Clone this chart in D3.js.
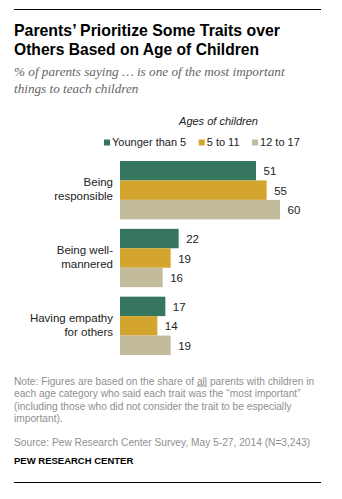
<!DOCTYPE html>
<html>
<head>
<meta charset="utf-8">
<script src="https://cdn.jsdelivr.net/npm/d3@7"></script>
<style>
  html, body { margin: 0; padding: 0; background: #fff; }
  svg { display: block; }
</style>
</head>
<body>
<script>
// Traits parents say are most important to teach, by age of their children
const traits = ["Being responsible", "Being well-mannered", "Having empathy for others"];
const traitLines = [["Being", "responsible"], ["Being well-", "mannered"], ["Having empathy", "for others"]];
const ageGroups = ["Younger than 5", "5 to 11", "12 to 17"];
const youngerThan5 = [51, 22, 17];
const age5to11 = [55, 19, 14];
const age12to17 = [60, 16, 19];
const groupColors = ["#36765f", "#d3a52f", "#c2bb9c"];

const titleLines = ["Parents\u2019 Prioritize Some Traits over", "Others Based on Age of Children"];
const subtitleLines = ["% of parents saying \u2026 is one of the most important", "things to teach children"];
const noteLines = [
  ["Note: Figures are based on the share of ", "all", " parents with children in"],
  ["each age category who said each trait was the \u201cmost important\u201d"],
  ["(including those who did not consider the trait to be especially"],
  ["important)."]
];
const sourceText = "Source: Pew Research Center Survey, May 5-27, 2014 (N=3,243)";
const brandText = "PEW RESEARCH CENTER";

const W = 342, H = 499;
const sans = "'Liberation Sans', Arial, sans-serif";

const svg = d3.select("body").append("svg").attr("width", W).attr("height", H);

// Rules top and bottom
svg.append("line").attr("x1", 14).attr("x2", 321).attr("y1", 9.5).attr("y2", 9.5)
  .attr("stroke", "#000").attr("stroke-width", 1);
svg.append("line").attr("x1", 14).attr("x2", 321).attr("y1", 482.5).attr("y2", 482.5)
  .attr("stroke", "#000").attr("stroke-width", 1);

// Title
const titleWidths = [266, 245];
titleLines.forEach((t, i) => {
  svg.append("text").attr("x", 14).attr("y", 36 + i * 19.3)
    .attr("font-family", sans).attr("font-weight", "bold").attr("font-size", 16.5)
    .attr("fill", "#000").attr("textLength", titleWidths[i]).attr("lengthAdjust", "spacingAndGlyphs")
    .text(t);
});

// Subtitle
subtitleLines.forEach((t, i) => {
  svg.append("text").attr("x", 14).attr("y", 76 + i * 17)
    .attr("font-family", "'Liberation Serif', 'Times New Roman', serif").attr("font-style", "italic")
    .attr("font-size", 13.2).attr("fill", "#666")
    .text(t);
});

// Scales
const x = d3.scaleLinear().domain([0, 60]).range([120, 280]);
const y = d3.scaleBand().domain(traits).range([161, 355]).paddingInner(0.14).paddingOuter(0);
const yInner = d3.scaleBand().domain(ageGroups).range([0, y.bandwidth()]).padding(0);
const color = d3.scaleOrdinal().domain(ageGroups).range(groupColors);

const seriesValues = [youngerThan5, age5to11, age12to17];
const rows = [];
traits.forEach((t, ti) => {
  ageGroups.forEach((g, gi) => rows.push({ trait: t, group: g, value: seriesValues[gi][ti] }));
});

// Legend
svg.append("text").attr("x", 218.5).attr("y", 125).attr("text-anchor", "middle")
  .attr("font-family", sans).attr("font-style", "italic").attr("font-size", 11).attr("fill", "#222")
  .text("Ages of children");

let lx = 104;
ageGroups.forEach((g) => {
  svg.append("rect").attr("x", lx).attr("y", 139.5).attr("width", 6).attr("height", 6).attr("fill", color(g));
  const t = svg.append("text").attr("x", lx + 8).attr("y", 145.7)
    .attr("font-family", sans).attr("font-size", 11).attr("fill", "#222").text(g);
  lx += 8 + t.node().getComputedTextLength() + 12.5;
});

// Bars
const g = svg.append("g");
g.selectAll("rect.bar").data(rows).join("rect").attr("class", "bar")
  .attr("x", x(0))
  .attr("y", d => y(d.trait) + yInner(d.group))
  .attr("width", d => x(d.value) - x(0))
  .attr("height", yInner.bandwidth())
  .attr("fill", d => color(d.group));

// Value labels
g.selectAll("text.val").data(rows).join("text").attr("class", "val")
  .attr("x", d => x(d.value) + 7.5)
  .attr("y", d => y(d.trait) + yInner(d.group) + yInner.bandwidth() / 2 + 4.5)
  .attr("font-family", sans).attr("font-size", 11.5).attr("fill", "#222")
  .text(d => d.value);

// Category labels
traits.forEach((t, ti) => {
  const lines = traitLines[ti];
  const mid = y(t) + y.bandwidth() / 2;
  const lh = 13.8;
  const first = mid + 3 - (lines.length - 1) * lh / 2;
  const txt = svg.append("text").attr("text-anchor", "end")
    .attr("font-family", sans).attr("font-size", 11.5).attr("fill", "#222");
  lines.forEach((ln, li) => {
    txt.append("tspan").attr("x", 113).attr("y", first + li * lh).text(ln);
  });
});

// Note
const noteColor = "#8f8f8f";
noteLines.forEach((parts, i) => {
  const t = svg.append("text").attr("x", 14).attr("y", 384.5 + i * 12.5)
    .attr("font-family", sans).attr("font-size", 10.2).attr("fill", noteColor);
  parts.forEach((p, pi) => {
    const s = t.append("tspan").text(p);
    if (parts.length === 3 && pi === 1) s.attr("text-decoration", "underline");
  });
});

svg.append("text").attr("x", 14).attr("y", 446)
  .attr("font-family", sans).attr("font-size", 10.2).attr("fill", noteColor)
  .text(sourceText);

svg.append("text").attr("x", 14).attr("y", 464)
  .attr("font-family", sans).attr("font-weight", "bold").attr("font-size", 9.5).attr("fill", "#000")
  .text(brandText);
</script>
</body>
</html>
